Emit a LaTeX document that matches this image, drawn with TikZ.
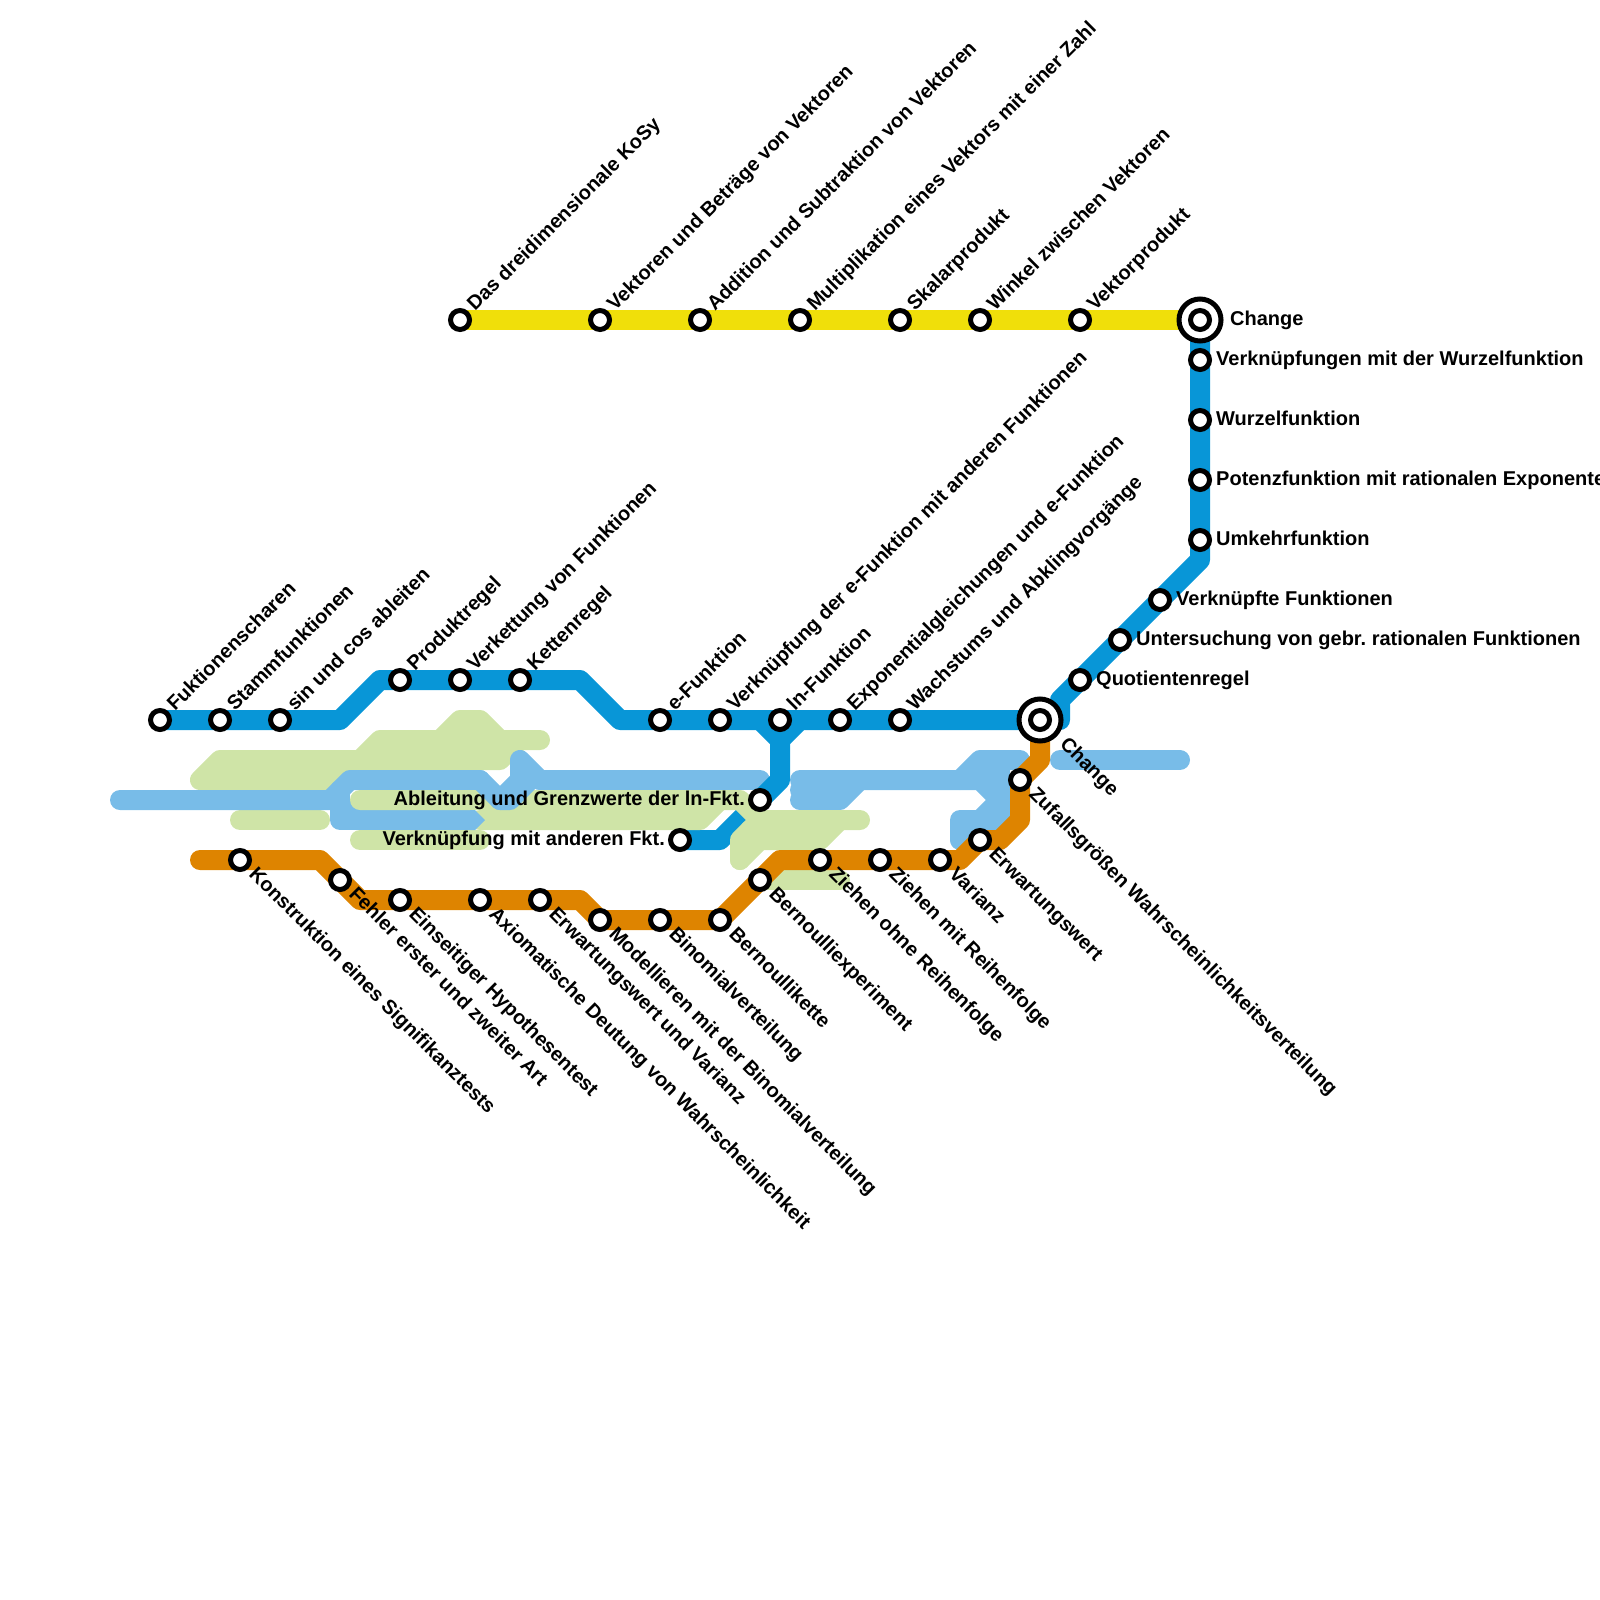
\documentclass[tikz,border=0pt]{standalone}
\usepackage{fontspec}
\setmainfont{Liberation Sans}
\usepackage{xcolor}
\usepackage{tikz}
\usetikzlibrary{positioning,backgrounds}
\definecolor{linedark}{HTML}{0896D7}
\definecolor{linelight}{HTML}{78BCE8}
\definecolor{linegreen}{HTML}{CFE4A7}
\definecolor{lineorange}{HTML}{DE8400}
\definecolor{lineyellow}{HTML}{F0DF0A}
\frenchspacing

\begin{document}
\begin{tikzpicture}[
    x=1pt, y=-1pt,
    track/.style={line width=20pt, line cap=round, line join=round},
    stn/.style={circle, draw, line width=5pt, fill=white, minimum size=19pt, inner sep=0pt},
    hub/.style={circle, draw, line width=5pt, fill=white, minimum size=42pt, inner sep=0pt},
    lbl/.style={font=\bfseries\fontsize{20}{24}\selectfont, inner sep=0pt, text height=14pt, text depth=3pt},
    lup/.style={lbl, xshift=15pt, yshift=8pt, rotate=45, anchor=base west},
    ldown/.style={lbl, xshift=8pt, yshift=-15pt, rotate=-45, anchor=base west}
]
\useasboundingbox (0,0) rectangle (1600,1600);

% yellow line
\node[stn] (kosy) at (460,320) {};
\node[lup] (kosyl) at (kosy) {Das dreidimensionale KoSy};
\node[stn] (betrag) at (600,320) {};
\node[lup] (betragl) at (betrag) {Vektoren und Beträge von Vektoren};
\node[stn] (addition) at (700,320) {};
\node[lup] (additionl) at (addition) {Addition und Subtraktion von Vektoren};
\node[stn] (multi) at (800,320) {};
\node[lup] (multil) at (multi) {Multiplikation eines Vektors mit einer Zahl};
\node[stn] (skalar) at (900,320) {};
\node[lup] (skalarl) at (skalar) {Skalarprodukt};
\node[stn] (winkel) at (980,320) {};
\node[lup] (winkell) at (winkel) {Winkel zwischen Vektoren};
\node[stn] (vektorp) at (1080,320) {};
\node[lup] (vektorpl) at (vektorp) {Vektorprodukt};
\node[hub] (hubtop) at (1200,320) {};
\node[stn] (hubtopin) at (hubtop) {};
\node[lbl, right=30pt of hubtopin.center, anchor=west] (hubtopl) {Change};

% dark blue line
\node[stn] (fukt) at (160,720) {};
\node[lup] (fuktl) at (fukt) {Fuktionenscharen};
\node[stn] (stamm) at (220,720) {};
\node[lup] (stamml) at (stamm) {Stammfunktionen};
\node[stn] (sincos) at (280,720) {};
\node[lup] (sincosl) at (sincos) {sin und cos ableiten};
\node[stn] (produkt) at (400,680) {};
\node[lup] (produktl) at (produkt) {Produktregel};
\node[stn] (verkett) at (460,680) {};
\node[lup] (verkettl) at (verkett) {Verkettung von Funktionen};
\node[stn] (kette) at (520,680) {};
\node[lup] (kettel) at (kette) {Kettenregel};
\node[stn] (efkt) at (660,720) {};
\node[lup] (efktl) at (efkt) {e-Funktion};
\node[stn] (everk) at (720,720) {};
\node[lup] (everkl) at (everk) {Verknüpfung der e-Funktion mit anderen Funktionen};
\node[stn] (lnfkt) at (780,720) {};
\node[lup] (lnfktl) at (lnfkt) {ln-Funktion};
\node[stn] (expo) at (840,720) {};
\node[lup] (expol) at (expo) {Exponentialgleichungen und e-Funktion};
\node[stn] (wachs) at (900,720) {};
\node[lup] (wachsl) at (wachs) {Wachstums und Abklingvorgänge};
\node[hub] (hubmid) at (1040,720) {};
\node[stn] (hubmidin) at (hubmid) {};
\node[lbl, xshift=19pt, yshift=-25pt, rotate=-45, anchor=base west] (hubmidl) at (hubmid) {Change};

\node[stn] (quot) at (1080,680) {};
\node[lbl, right=4pt of quot] (quotl) {Quotientenregel};
\node[stn] (gebr) at (1120,640) {};
\node[lbl, right=4pt of gebr] (gebrl) {Untersuchung von gebr. rationalen Funktionen};
\node[stn] (verkn) at (1160,600) {};
\node[lbl, right=4pt of verkn] (verknl) {Verknüpfte Funktionen};
\node[stn] (umkehr) at (1200,540) {};
\node[lbl, right=4pt of umkehr] (umkehrl) {Umkehrfunktion};
\node[stn] (potenz) at (1200,480) {};
\node[lbl, right=4pt of potenz] (potenzl) {Potenzfunktion mit rationalen Exponenten};
\node[stn] (wurzel) at (1200,420) {};
\node[lbl, right=4pt of wurzel] (wurzell) {Wurzelfunktion};
\node[stn] (wurzv) at (1200,360) {};
\node[lbl, right=4pt of wurzv] (wurzvl) {Verknüpfungen mit der Wurzelfunktion};

\node[stn] (lngw) at (760,800) {};
\node[lbl, left=3pt of lngw] (lngwl) {Ableitung und Grenzwerte der ln-Fkt.};
\node[stn] (lnverk) at (680,840) {};
\node[lbl, left=3pt of lnverk] (lnverkl) {Verknüpfung mit anderen Fkt.};

% orange line
\node[stn] (signi) at (240,860) {};
\node[ldown] (signil) at (signi) {Konstruktion eines Signifikanztests};
\node[stn] (fehler) at (340,880) {};
\node[ldown] (fehlerl) at (fehler) {Fehler erster und zweiter Art};
\node[stn] (hypo) at (400,900) {};
\node[ldown] (hypol) at (hypo) {Einseitiger Hypothesentest};
\node[stn] (axiom) at (480,900) {};
\node[ldown] (axioml) at (axiom) {Axiomatische Deutung von Wahrscheinlichkeit};
\node[stn] (erwvar) at (540,900) {};
\node[ldown] (erwvarl) at (erwvar) {Erwartungswert und Varianz};
\node[stn] (modell) at (600,920) {};
\node[ldown] (modelll) at (modell) {Modellieren mit der Binomialverteilung};
\node[stn] (binom) at (660,920) {};
\node[ldown] (binoml) at (binom) {Binomialverteilung};
\node[stn] (bkette) at (720,920) {};
\node[ldown] (bkettel) at (bkette) {Bernoullikette};
\node[stn] (bexp) at (760,880) {};
\node[ldown] (bexpl) at (bexp) {Bernoulliexperiment};
\node[stn] (ohne) at (820,860) {};
\node[ldown] (ohnel) at (ohne) {Ziehen ohne Reihenfolge};
\node[stn] (mit) at (880,860) {};
\node[ldown] (mitl) at (mit) {Ziehen mit Reihenfolge};
\node[stn] (varianz) at (940,860) {};
\node[ldown] (varianzl) at (varianz) {Varianz};
\node[stn] (erw) at (980,840) {};
\node[ldown] (erwl) at (erw) {Erwartungswert};
\node[stn] (zufall) at (1020,780) {};
\node[ldown] (zufalll) at (zufall) {Zufallsgrößen Wahrscheinlichkeitsverteilung};

\begin{scope}[on background layer]
% green, upper block
\draw[track, linegreen, fill=linegreen] (200,780) -- (220,760) -- (360,760) -- (380,740) -- (440,740) -- (460,720) -- (480,720) -- (500,740) -- (540,740) -- (520,740) -- (500,760) -- (340,760) -- (340,780) -- cycle;
\draw[track, linegreen] (240,820) -- (320,820);
% light blue
\draw[track, linelight] (120,800) -- (330,800) -- (350,780) -- (480,780);
\draw[track, linelight] (340,790) -- (340,820) -- (470,820);
\draw[track, linelight] (340,810) -- (460,810);
\draw[track, linelight] (540,780) -- (760,780);
\draw[track, linelight] (800,780) -- (960,780) -- (980,760) -- (1020,760);
\draw[track, linelight] (800,800) -- (840,800) -- (860,780);
\draw[track, linelight] (800,790) -- (840,790);
\draw[track, linelight] (960,780) -- (980,780) -- (1000,800) -- (980,820) -- (960,820) -- (960,840) -- (980,820);
\draw[track, linelight] (980,770) -- (1000,770);
\draw[track, linelight] (980,820) -- (1000,820) -- (1000,760);
\draw[track, linelight] (1060,760) -- (1180,760);
% dark blue
\draw[track, linedark] (fukt.center) -- (stamm.center) -- (sincos.center) -- (340,720) -- (380,680) -- (produkt.center) -- (verkett.center) -- (kette.center) -- (580,680) -- (620,720) -- (efkt.center) -- (everk.center) -- (lnfkt.center) -- (expo.center) -- (wachs.center) -- (hubmid.center) -- (1060,720) -- (1060,700) -- (quot.center) -- (gebr.center) -- (verkn.center) -- (1200,560) -- (umkehr.center) -- (potenz.center) -- (wurzel.center) -- (wurzv.center) -- (hubtop.center);
\draw[track, linedark] (760,720) -- (780,740) -- (800,720);
\draw[track, linedark] (780,740) -- (780,780) -- (lngw.center) -- (720,840) -- (lnverk.center);
% green, lower block
\draw[track, linegreen] (360,800) -- (740,800) -- (760,820) -- (860,820);
\draw[track, linegreen] (360,840) -- (480,840);
\draw[track, linegreen] (480,820) -- (700,820) -- (720,800);
\draw[track, linegreen] (540,810) -- (690,810);
\draw[track, linegreen] (740,860) -- (740,840) -- (760,820);
\draw[track, linegreen] (740,860) -- (760,840) -- (820,840) -- (840,820);
\draw[track, linegreen] (750,830) -- (820,830);
\draw[track, linegreen] (760,880) -- (840,880);
% light blue over green
\draw[track, linelight] (480,780) -- (500,800) -- (510,800) -- (530,780);
\draw[track, linelight] (500,800) -- (520,780) -- (520,760) -- (540,780);
\fill[linelight] (470,810) -- (475,810) -- (485,820) -- (475,830) -- (470,830) -- cycle;
% orange and yellow
\draw[track, lineorange] (200,860) -- (signi.center) -- (320,860) -- (fehler.center) -- (360,900) -- (hypo.center) -- (axiom.center) -- (erwvar.center) -- (580,900) -- (modell.center) -- (binom.center) -- (bkette.center) -- (bexp.center) -- (780,860) -- (ohne.center) -- (mit.center) -- (varianz.center) -- (960,860) -- (erw.center) -- (1000,840) -- (1020,820) -- (zufall.center) -- (1040,760) -- (hubmid.center);
\draw[track, lineyellow] (kosy.center) -- (betrag.center) -- (addition.center) -- (multi.center) -- (skalar.center) -- (winkel.center) -- (vektorp.center) -- (hubtop.center);
\end{scope}
\end{tikzpicture}
\end{document}
